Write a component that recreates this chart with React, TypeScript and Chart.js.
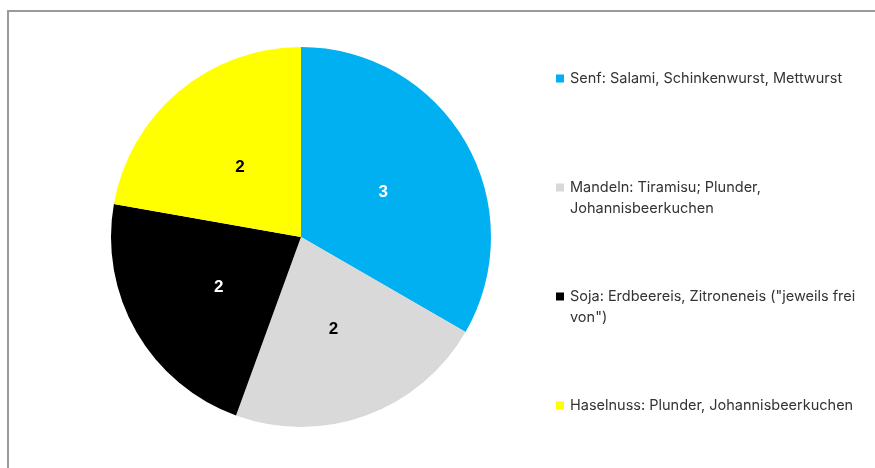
import React, { useEffect, useRef } from "react";
import { Chart, registerables } from "chart.js";

Chart.register(...registerables);

const categories: string[][] = [
  ["Senf: Salami, Schinkenwurst, Mettwurst"],
  ["Mandeln: Tiramisu; Plunder,", "Johannisbeerkuchen"],
  ["Soja: Erdbeereis, Zitroneneis (\"jeweils frei", "von\")"],
  ["Haselnuss: Plunder, Johannisbeerkuchen"],
];
const values: number[] = [3, 2, 2, 2];
const colors: string[] = ["#00B0F0", "#D9D9D9", "#000000", "#FFFF00"];
const labelColors: string[] = ["#FFFFFF", "#000000", "#FFFFFF", "#000000"];

const valueLabelPlugin = {
  id: "valueLabels",
  afterDatasetsDraw(chart: any) {
    const meta = chart.getDatasetMeta(0);
    const ctx = chart.ctx;
    ctx.save();
    ctx.font = "bold 17px 'Liberation Sans', Arial, sans-serif";
    ctx.textAlign = "center";
    ctx.textBaseline = "middle";
    meta.data.forEach((arc: any, i: number) => {
      const p = arc.tooltipPosition();
      ctx.fillStyle = labelColors[i];
      ctx.fillText(String(chart.data.datasets[0].data[i]), p.x, p.y + 3);
    });
    ctx.restore();
  },
};

const sideLegendPlugin = {
  id: "sideLegend",
  afterDraw(chart: any, _args: any, opts: any) {
    const ctx = chart.ctx;
    ctx.save();
    ctx.font = opts.font;
    ctx.textBaseline = "middle";
    ctx.textAlign = "left";
    const labels = chart.data.labels as string[][];
    labels.forEach((lines, i) => {
      const y = opts.top + i * opts.step;
      ctx.fillStyle = colors[i];
      ctx.fillRect(opts.x, y - opts.box / 2, opts.box, opts.box);
      ctx.fillStyle = opts.color;
      lines.forEach((line, j) => {
        ctx.fillText(line, opts.x + opts.box + opts.gap, y + j * opts.lineHeight);
      });
    });
    ctx.restore();
  },
};

export default function App() {
  const ref = useRef<HTMLCanvasElement | null>(null);
  useEffect(() => {
    if (!ref.current) return;
    const chart = new Chart(ref.current, {
      type: "pie",
      data: {
        labels: categories as any,
        datasets: [
          {
            data: values,
            backgroundColor: colors,
            borderWidth: 0,
          },
        ],
      },
      options: {
        responsive: false,
        animation: false,
        layout: { padding: { left: 111, right: 384, top: 47, bottom: 41 } },
        plugins: {
          legend: { display: false },
          tooltip: { enabled: false },
          sideLegend: {
            x: 556,
            top: 78.5,
            step: 109,
            box: 8,
            gap: 6,
            lineHeight: 21.5,
            font: "14.5px Inter, 'Noto Sans', sans-serif",
            color: "#333333",
          },
        } as any,
      },
      plugins: [valueLabelPlugin, sideLegendPlugin],
    });
    return () => chart.destroy();
  }, []);
  return (
    <div style={{ position: "fixed", left: 0, top: 0, width: 875, height: 468, background: "#fff" }}>
      <canvas ref={ref} width={875} height={468} style={{ position: "absolute", left: 0, top: 0 }} />
      <div
        style={{
          position: "absolute",
          left: 7,
          top: 10,
          width: 868,
          height: 458,
          borderTop: "2px solid #9a9a9a",
          borderLeft: "2px solid #9a9a9a",
          boxSizing: "border-box",
          pointerEvents: "none",
        }}
      />
    </div>
  );
}
